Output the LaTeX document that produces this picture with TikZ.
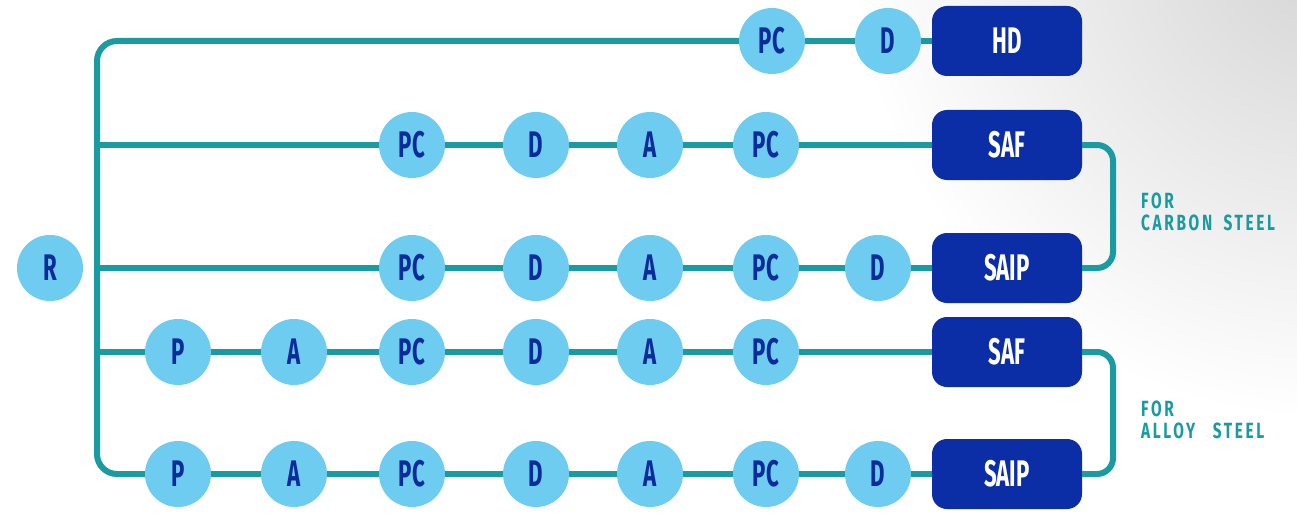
\documentclass[tikz,border=0pt]{standalone}
\usepackage{fontspec}
\newfontfamily\condf{Fira Sans}[FakeStretch=0.6]
\newfontfamily\labf{Fira Sans}[FakeStretch=0.7,LetterSpace=12]
\definecolor{teal1}{HTML}{1A9BA1}
\definecolor{lblue}{HTML}{6DCCF0}
\definecolor{dblue}{HTML}{0B2EA6}
\definecolor{ctext}{HTML}{0D2C9C}
\tikzset{
  stepc/.style={circle, fill=lblue, minimum size=66pt, inner sep=0pt,
    text=ctext, font=\condf\bfseries\fontsize{37}{37}\selectfont},
  endbox/.style={rectangle, rounded corners=15pt, fill=dblue, minimum width=150pt,
    minimum height=70pt, inner sep=0pt, text=white, font=\condf\bfseries\fontsize{37}{37}\selectfont},
  conn/.style={draw=teal1, line width=6pt},
  lab/.style={text=teal1, align=left, anchor=north west, inner sep=0pt,
    font=\labf\bfseries\fontsize{22}{22}\selectfont}
}
\begin{document}
\begin{tikzpicture}[x=1pt,y=-1pt]
\useasboundingbox (0,0) rectangle (1297,516);
\fill[white] (0,0) rectangle (1297,516);
\begin{scope}
\clip (0,0) rectangle (1297,516);
\shade[inner color=black!17, outer color=white] (1330,-60) circle (480);
\end{scope}

% trunk coordinates
\coordinate (ttop) at (97,41);
\coordinate (t2) at (97,145);
\coordinate (t3) at (97,268);
\coordinate (t4) at (97,352);
\coordinate (tbot) at (97,474);
\coordinate (bk1) at (1113,206);
\coordinate (bk2) at (1113,413);

% R
\node[stepc] (r) at (50,268) {R};

% row 1
\node[stepc] (a1) at (772,41) {PC};
\node[stepc] (a2) at (888,41) {D};
\node[endbox] (hd) at (1007,41) {HD};

% row 2
\node[stepc] (b1) at (412,145) {PC};
\node[stepc] (b2) at (536,145) {D};
\node[stepc] (b3) at (650,145) {A};
\node[stepc] (b4) at (766,145) {PC};
\node[endbox] (saf1) at (1007,145) {SAF};

% row 3
\node[stepc] (c1) at (412,268) {PC};
\node[stepc] (c2) at (536,268) {D};
\node[stepc] (c3) at (650,268) {A};
\node[stepc] (c4) at (766,268) {PC};
\node[stepc] (c5) at (878,268) {D};
\node[endbox] (saip1) at (1007,268) {SAIP};

% row 4
\node[stepc] (d1) at (178,352) {P};
\node[stepc] (d2) at (294,352) {A};
\node[stepc] (d3) at (412,352) {PC};
\node[stepc] (d4) at (536,352) {D};
\node[stepc] (d5) at (650,352) {A};
\node[stepc] (d6) at (766,352) {PC};
\node[endbox] (saf2) at (1007,352) {SAF};

% row 5
\node[stepc] (e1) at (178,474) {P};
\node[stepc] (e2) at (294,474) {A};
\node[stepc] (e3) at (412,474) {PC};
\node[stepc] (e4) at (536,474) {D};
\node[stepc] (e5) at (650,474) {A};
\node[stepc] (e6) at (766,474) {PC};
\node[stepc] (e7) at (878,474) {D};
\node[endbox] (saip2) at (1007,474) {SAIP};

% trunk
\draw[conn, rounded corners=20pt] (a1.west) -- (ttop) -- (tbot) -- (e1.west);
\draw[conn] (t2) -- (b1.west);
\draw[conn] (t3) -- (c1.west);
\draw[conn] (t4) -- (d1.west);

% chains
\draw[conn] (a1) -- (a2) (a2) -- (hd);
\draw[conn] (b1) -- (b2) (b2) -- (b3) (b3) -- (b4) (b4) -- (saf1);
\draw[conn] (c1) -- (c2) (c2) -- (c3) (c3) -- (c4) (c4) -- (c5) (c5) -- (saip1);
\draw[conn] (d1) -- (d2) (d2) -- (d3) (d3) -- (d4) (d4) -- (d5) (d5) -- (d6) (d6) -- (saf2);
\draw[conn] (e1) -- (e2) (e2) -- (e3) (e3) -- (e4) (e4) -- (e5) (e5) -- (e6) (e6) -- (e7) (e7) -- (saip2);

% brackets
\draw[conn, rounded corners=16pt] (saf1.east) -| (bk1) |- (saip1.east);
\draw[conn, rounded corners=16pt] (saf2.east) -| (bk2) |- (saip2.east);

% labels
\node[lab] (l1) at (1141,193) {FOR\\CARBON\hspace{5pt} STEEL};
\node[lab] (l2) at (1141,401) {FOR\\ALLOY\hspace{5pt}\ \ STEEL};
\end{tikzpicture}
\end{document}
